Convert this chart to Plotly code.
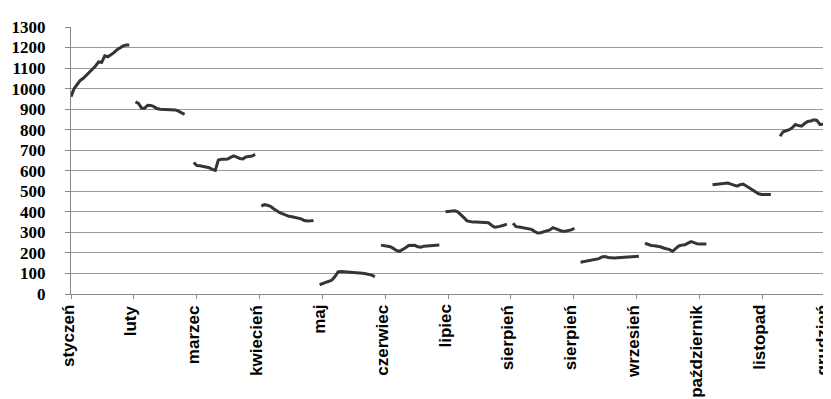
import plotly.graph_objects as go

# Month labels on the category axis (as printed, incl. the duplicated "sierpień")
tick_labels = ["styczeń", "luty", "marzec", "kwiecień", "maj", "czerwiec", "lipiec",
               "sierpień", "sierpień", "wrzesień", "październik", "listopad", "grudzień"]

# Daily values per month; None marks days without a quote (gap between months)
m01 = [960, 1000, 1020, 1040, 1050, 1065, 1075, 1090, 1110, 1130, 1128, 1160, 1155, 1165,
       1175, 1190, 1200, 1208, 1212, 1212, None]
m02 = [935, 928, 905, 905, 919, 918, 912, 903, 900, 899, 899, 898, 897, 896, 890, 883, 875,
       None, None]
m03 = [640, 625, 624, 622, 620, 615, 607, 602, 652, 656, 656, 657, 665, 672, 666, 660, 658,
       667, 670, 672, 680, None]
m04 = [428, 435, 432, 427, 415, 405, 396, 390, 383, 378, 376, 373, 370, 366, 358, 355, 356,
       358, None]
m05 = [45, 52, 57, 62, 68, 85, 108, 110, 109, 108, 108, 106, 105, 104, 101, 99, 96, 92, 84,
       None]
m06 = [238, 236, 235, 230, 222, 212, 208, 215, 225, 236, 238, 237, 230, 228, 233, 234, 235,
       236, 237, 238, None]
m07 = [400, 401, 402, 405, 400, 388, 372, 356, 352, 350, 350, 350, 349, 348, 347, 335, 325,
       327, 330, 335, 340, None]
m08 = [345, 328, 326, 324, 322, 320, 315, 305, 297, 298, 302, 306, 312, 323, 318, 310, 306,
       306, 308, 312, 320, None]
m09 = [155, 158, 161, 163, 165, 167, 172, 180, 182, 178, 176, 175, 176, 177, 178, 178, 179,
       180, 182, 184, None]
m10 = [247, 240, 236, 235, 234, 230, 224, 220, 216, 208, 220, 234, 238, 240, 248, 255, 250,
       244, 243, 243, 243, None]
m11 = [532, 533, 535, 536, 538, 540, 535, 530, 525, 532, 535, 526, 517, 507, 497, 488, 485,
       484, 484, 484, None, None]
m12 = [768, 790, 795, 800, 810, 825, 820, 817, 830, 840, 842, 848, 845, 825, 826, 832, 832,
       832, 831, 828]

months = [m01, m02, m03, m04, m05, m06, m07, m08, m09, m10, m11, m12]
values = [v for m in months for v in m]
x_idx = list(range(len(values)))

TICK_STEP = 20.47   # data slots between printed category labels
tickvals = [k * TICK_STEP for k in range(len(tick_labels))]
X_RANGE = [0, 250.2]
Y_RANGE = [0, 1300]

title_text = "nie z cen terminowych zleceków rozwiązanych instrumentów pochodnych"
# anchor of the (cropped) heading, expressed in the chart's own axis units
TITLE_X = -23.1
TITLE_Y = 1422

fig = go.Figure()
fig.add_trace(go.Scatter(
    x=x_idx, y=values, mode="lines",
    line=dict(color="#353535", width=3, shape="linear"),
    connectgaps=False, hoverinfo="skip", showlegend=False,
))

# Heading, partly cut off by the top edge of the scan
fig.add_trace(go.Scatter(
    x=[TITLE_X], y=[TITLE_Y], mode="text", text=[title_text],
    textposition="middle right", cliponaxis=False, hoverinfo="skip", showlegend=False,
    textfont=dict(family="Liberation Serif, Times New Roman, serif", size=29,
                  color="black", weight="bold"),
))

label_font = dict(family="Liberation Sans, Arial", size=17, color="black", weight="bold")
annotations = [
    dict(text=lab, x=tv, xref="x", y=0, yref="paper", xanchor="center", yanchor="top",
         textangle=-90, showarrow=False, xshift=-3, yshift=-9, font=label_font)
    for tv, lab in zip(tickvals, tick_labels)
]

grid_col = "#9a9a9a"
fig.update_layout(
    width=831, height=399,
    margin=dict(l=63, r=0, t=19, b=113, autoexpand=False),
    paper_bgcolor="white", plot_bgcolor="white",
    showlegend=False,
    xaxis=dict(
        range=X_RANGE, tickmode="array", tickvals=tickvals, showticklabels=False,
        ticks="outside", ticklen=4, tickcolor="#888888",
        showgrid=False, zeroline=False, showline=True, linecolor="#888888", linewidth=1,
        automargin=False, fixedrange=True,
    ),
    yaxis=dict(
        range=Y_RANGE, dtick=100, tick0=0, ticks="outside", ticklen=5,
        tickcolor="#888888", showgrid=True, gridcolor=grid_col, gridwidth=1,
        zeroline=False, showline=True, linecolor="#888888", linewidth=1,
        tickfont=dict(family="Liberation Serif, Times New Roman, serif", size=17,
                      color="black", weight="bold"),
        ticklabelstandoff=16, automargin=False, fixedrange=True,
    ),
    annotations=annotations,
)

fig.write_html("out.html")
